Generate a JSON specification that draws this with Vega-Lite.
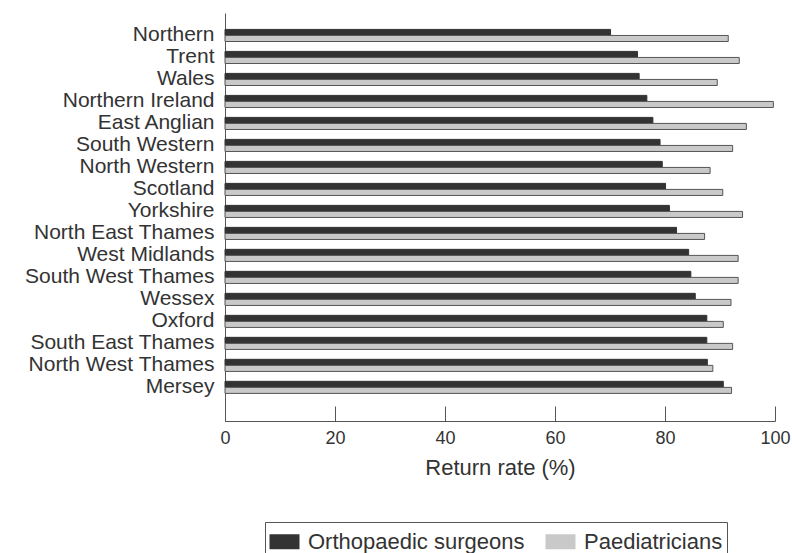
{
  "$schema": "https://vega.github.io/schema/vega-lite/v6.json",
  "width": 550,
  "height": 408,
  "autosize": {"type": "none"},
  "padding": {"left": 225, "top": 13, "right": 17, "bottom": 132},
  "background": "white",
  "config": {
    "view": {"stroke": null},
    "font": "Liberation Sans",
    "axis": {"labelColor": "#333333", "titleColor": "#333333", "domainColor": "#555555", "tickColor": "#555555", "grid": false}
  },
  "data": {
    "values": [
      {"region": "Northern", "group": "Orthopaedic surgeons", "rate": 70.1},
      {"region": "Northern", "group": "Paediatricians", "rate": 91.5},
      {"region": "Trent", "group": "Orthopaedic surgeons", "rate": 75.0},
      {"region": "Trent", "group": "Paediatricians", "rate": 93.5},
      {"region": "Wales", "group": "Orthopaedic surgeons", "rate": 75.3},
      {"region": "Wales", "group": "Paediatricians", "rate": 89.5},
      {"region": "Northern Ireland", "group": "Orthopaedic surgeons", "rate": 76.7},
      {"region": "Northern Ireland", "group": "Paediatricians", "rate": 99.7},
      {"region": "East Anglian", "group": "Orthopaedic surgeons", "rate": 77.8},
      {"region": "East Anglian", "group": "Paediatricians", "rate": 94.8},
      {"region": "South Western", "group": "Orthopaedic surgeons", "rate": 79.1},
      {"region": "South Western", "group": "Paediatricians", "rate": 92.3},
      {"region": "North Western", "group": "Orthopaedic surgeons", "rate": 79.5},
      {"region": "North Western", "group": "Paediatricians", "rate": 88.2},
      {"region": "Scotland", "group": "Orthopaedic surgeons", "rate": 80.1},
      {"region": "Scotland", "group": "Paediatricians", "rate": 90.5},
      {"region": "Yorkshire", "group": "Orthopaedic surgeons", "rate": 80.8},
      {"region": "Yorkshire", "group": "Paediatricians", "rate": 94.1},
      {"region": "North East Thames", "group": "Orthopaedic surgeons", "rate": 82.1},
      {"region": "North East Thames", "group": "Paediatricians", "rate": 87.2},
      {"region": "West Midlands", "group": "Orthopaedic surgeons", "rate": 84.3},
      {"region": "West Midlands", "group": "Paediatricians", "rate": 93.3},
      {"region": "South West Thames", "group": "Orthopaedic surgeons", "rate": 84.7},
      {"region": "South West Thames", "group": "Paediatricians", "rate": 93.3},
      {"region": "Wessex", "group": "Orthopaedic surgeons", "rate": 85.5},
      {"region": "Wessex", "group": "Paediatricians", "rate": 92.0},
      {"region": "Oxford", "group": "Orthopaedic surgeons", "rate": 87.6},
      {"region": "Oxford", "group": "Paediatricians", "rate": 90.6},
      {"region": "South East Thames", "group": "Orthopaedic surgeons", "rate": 87.6},
      {"region": "South East Thames", "group": "Paediatricians", "rate": 92.3},
      {"region": "North West Thames", "group": "Orthopaedic surgeons", "rate": 87.7},
      {"region": "North West Thames", "group": "Paediatricians", "rate": 88.7},
      {"region": "Mersey", "group": "Orthopaedic surgeons", "rate": 90.6},
      {"region": "Mersey", "group": "Paediatricians", "rate": 92.1}
    ]
  },
  "encoding": {
    "y": {
      "field": "region",
      "type": "nominal",
      "sort": null,
      "scale": {"paddingInner": 0.45, "paddingOuter": 1.04, "align": 0.373},
      "axis": {"title": null, "ticks": false, "labelFontSize": 21, "labelPadding": 11, "labelLimit": 300, "domainWidth": 1}
    },
    "yOffset": {
      "field": "group",
      "type": "nominal",
      "sort": ["Orthopaedic surgeons", "Paediatricians"],
      "scale": {"paddingInner": 0, "paddingOuter": 0}
    }
  },
  "layer": [
    {
      "mark": {"type": "bar", "strokeWidth": 1},
      "encoding": {
        "x": {
          "field": "rate",
          "type": "quantitative",
          "scale": {"domain": [0, 100], "nice": false},
          "axis": {
            "title": "Return rate (%)",
            "values": [0, 20, 40, 60, 80, 100],
            "ticks": false,
            "labelFontSize": 18,
            "labelPadding": 8,
            "titleFontSize": 22,
            "titleFontWeight": "normal",
            "titlePadding": 10,
            "labelFlush": false
          }
        },
        "fill": {
          "field": "group",
          "type": "nominal",
          "sort": ["Orthopaedic surgeons", "Paediatricians"],
          "scale": {"range": ["#333333", "#c9c9c9"]},
          "legend": {
            "title": null,
            "orient": "none",
            "direction": "horizontal",
            "columns": 2,
            "legendX": 40,
            "legendY": 509,
            "symbolType": "M-1,-0.5H1V0.5H-1Z",
            "symbolSize": 900,
            "symbolStrokeWidth": 1,
            "labelFontSize": 22,
            "labelColor": "#333333",
            "labelLimit": 400,
            "labelOffset": 8,
            "columnPadding": 20,
            "padding": 4,
            "strokeColor": "#555555",
            "fillColor": "white"
          }
        },
        "stroke": {
          "field": "group",
          "type": "nominal",
          "sort": ["Orthopaedic surgeons", "Paediatricians"],
          "scale": {"range": ["#333333", "#555555"]},
          "legend": null
        }
      }
    },
    {
      "mark": {"type": "bar", "opacity": 0},
      "encoding": {
        "x": {
          "field": "rate",
          "type": "quantitative",
          "scale": {"domain": [0, 100], "nice": false},
          "axis": {
            "title": null,
            "values": [0, 20, 40, 60, 80, 100],
            "labels": false,
            "domain": false,
            "ticks": true,
            "tickSize": 15,
            "offset": -15,
            "orient": "bottom"
          }
        }
      }
    }
  ],
  "resolve": {"axis": {"x": "independent"}}
}
